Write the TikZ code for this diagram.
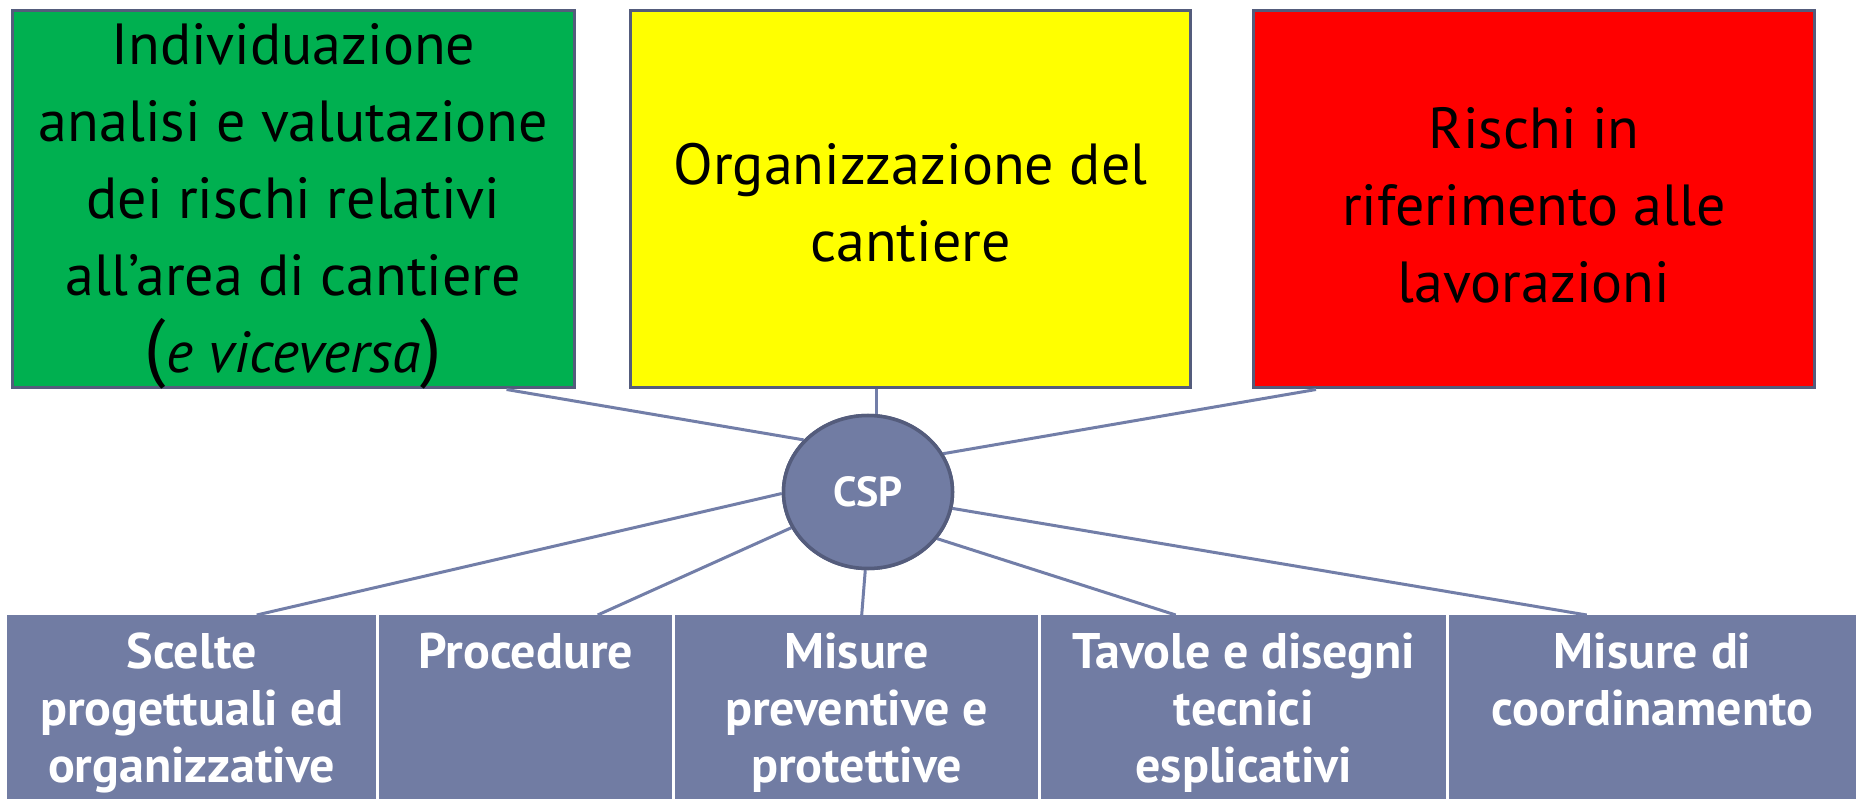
\documentclass[tikz,border=0pt]{standalone}
\usepackage{fontspec}
\setmainfont{PT Sans}
\usetikzlibrary{shapes.geometric}
\definecolor{slatefill}{RGB}{113,124,163}
\definecolor{slateedge}{RGB}{84,92,124}
\definecolor{linkcol}{RGB}{114,126,168}
\definecolor{pgreen}{RGB}{0,176,80}
\definecolor{pyellow}{RGB}{255,255,0}
\definecolor{pred}{RGB}{255,0,0}
\tikzset{
  topbox/.style={draw=slateedge, line width=3pt, anchor=north west, minimum height=377pt, inner sep=0pt},
  toptext/.style={align=center, font=\fontsize{58}{77}\selectfont, text=black, inner sep=0pt},
  botbox/.style={fill=slatefill, anchor=north west, minimum height=184pt, inner sep=0pt},
  bottext/.style={align=center, font=\fontsize{50}{57}\selectfont\bfseries, text=white, inner sep=0pt, anchor=north},
  link/.style={draw=linkcol, line width=3pt},
  cspnode/.style={ellipse, fill=slatefill, draw=slateedge, line width=3.5pt, minimum width=169pt, minimum height=153pt, inner sep=0pt, font=\fontsize{42}{46}\selectfont\bfseries, text=white}
}
\begin{document}
\begin{tikzpicture}[x=1pt,y=-1pt]
\useasboundingbox[fill=white] (0,0) rectangle (1856,799);
% top boxes
\node[topbox, fill=pgreen, minimum width=562pt] (green) at (11,9.5) {};
\node[topbox, fill=pyellow, minimum width=560pt] (yellow) at (629,9.5) {};
\node[topbox, fill=pred, minimum width=561pt] (red) at (1252,9.5) {};
\node[toptext] (greentxt) at ([yshift=-7pt]green.center) {Individuazione\\analisi e valutazione\\dei rischi relativi\\all’area di cantiere\\{\fontsize{76}{77}\selectfont(}\textit{e viceversa}{\fontsize{76}{77}\selectfont)}};
\node[toptext] (yellowtxt) at ([yshift=-3pt]yellow.center) {Organizzazione del\\cantiere};
\node[toptext] (redtxt) at ([yshift=-6pt]red.center) {Rischi in\\riferimento alle\\lavorazioni};
% bottom boxes
\node[botbox, minimum width=369pt] (b1) at (7,615) {};
\node[botbox, minimum width=293pt] (b2) at (379,615) {};
\node[botbox, minimum width=363pt] (b3) at (675,615) {};
\node[botbox, minimum width=405pt] (b4) at (1041,615) {};
\node[botbox, minimum width=407pt] (b5) at (1449,615) {};
\node[bottext] (t1) at ([yshift=-18pt]b1.north) {Scelte\\progettuali ed\\organizzative};
\node[bottext] (t2) at ([yshift=-18pt]b2.north) {Procedure};
\node[bottext] (t3) at ([yshift=-18pt]b3.north) {Misure\\preventive e\\protettive};
\node[bottext] (t4) at ([yshift=-18pt]b4.north) {Tavole e disegni\\tecnici\\esplicativi};
\node[bottext] (t5) at ([yshift=-18pt]b5.north) {Misure di\\coordinamento};
% connectors (behind ellipse)
\path (868,492) node[cspnode] (cspshape) {};
\draw[link] ([xshift=213pt]green.south) -- (cspshape.141);
\draw[link] (cspshape.84) -- (cspshape.84 |- yellow.south);
\draw[link] ([xshift=-218pt]red.south) -- (cspshape.27);
\draw[link] ([xshift=65pt]b1.north) -- (cspshape.181);
\draw[link] ([xshift=72pt]b2.north) -- (cspshape.205);
\draw[link] ([xshift=5pt]b3.north) -- (cspshape.268);
\draw[link] ([xshift=-68pt]b4.north) -- (cspshape.326);
\draw[link] ([xshift=-66pt]b5.north) -- (cspshape.349);
\node[cspnode] (csp) at (868,492) {CSP};
\end{tikzpicture}
\end{document}
